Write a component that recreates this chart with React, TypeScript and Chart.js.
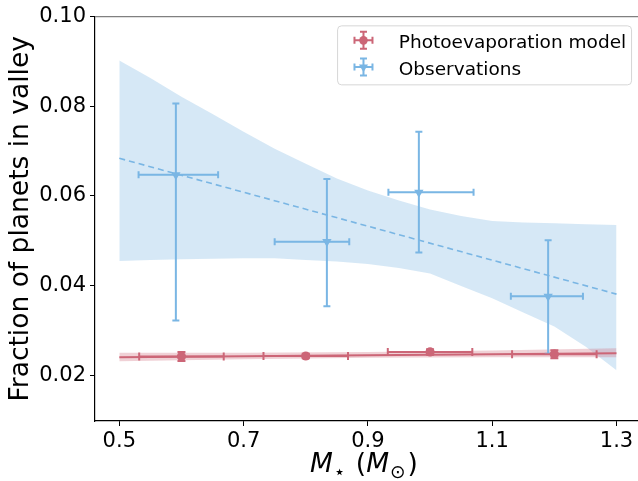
import React, { useEffect, useRef } from "react";
import { Chart, registerables } from "chart.js";

Chart.register(...registerables);

// ---------- data ----------
const xTicks = [0.5, 0.7, 0.9, 1.1, 1.3];
const yTicks = [0.02, 0.04, 0.06, 0.08, 0.1];

const legendLabels = ["Photoevaporation model", "Observations"];

// Photoevaporation model points
const modelMass = [0.6, 0.8, 1.0, 1.2];
const modelFraction = [0.0242, 0.0243, 0.0252, 0.0247];
const modelFracErr = [0.001, 0.0005, 0.0006, 0.0009];
const modelMassErr = [0.068, 0.068, 0.068, 0.068];

// Observations
const obsMass = [0.591, 0.834, 0.982, 1.19];
const obsFraction = [0.0647, 0.0498, 0.0608, 0.0376];
const obsFracErrLow = [0.0325, 0.0144, 0.0134, 0.0128];
const obsFracErrHigh = [0.0159, 0.014, 0.0135, 0.0125];
const obsMassErrLow = [0.06, 0.084, 0.049, 0.06];
const obsMassErrHigh = [0.068, 0.036, 0.088, 0.056];

// Fit lines
const fitMass = [0.5, 1.3];
const obsFitValue = [0.0684, 0.0381];
const modelFitValue = [0.024, 0.0249];

// Observation fit uncertainty band
const obsBandMass = [0.5, 0.55, 0.6, 0.65, 0.7, 0.75, 0.8, 0.85, 0.9, 0.95, 1.0, 1.05, 1.1, 1.15, 1.2, 1.25, 1.3];
const obsBandHigh = [0.0902, 0.0863, 0.0821, 0.0783, 0.0743, 0.0705, 0.0672, 0.0639, 0.0612, 0.059, 0.057, 0.0555, 0.0544, 0.0541, 0.0539, 0.0537, 0.0535];
const obsBandLow = [0.0455, 0.0457, 0.0459, 0.046, 0.0461, 0.0461, 0.0457, 0.0454, 0.0448, 0.0439, 0.0427, 0.0399, 0.0372, 0.034, 0.0309, 0.0264, 0.0211];

// Model fit uncertainty band
const modelBandMass = [0.5, 0.7, 0.9, 1.1, 1.3];
const modelBandLow = [0.0231, 0.0236, 0.0239, 0.024, 0.024];
const modelBandHigh = [0.025, 0.025, 0.0252, 0.0255, 0.026];

// ---------- styles ----------
const RED = "#CC6677";
const RED_BAND = "rgba(204,102,119,0.3)";
const BLUE = "#7ab6e4";
const BLUE_BAND = "rgba(93,165,218,0.25)";
const FONT = "DejaVu Sans";

const pts = (xs: number[], ys: number[]) => xs.map((x, i) => ({ x, y: ys[i] }));

function drawMarker(ctx: CanvasRenderingContext2D, kind: string, x: number, y: number, r: number, color: string) {
  ctx.fillStyle = color;
  ctx.beginPath();
  if (kind === "circle") {
    ctx.arc(x, y, r, 0, Math.PI * 2);
  } else {
    ctx.moveTo(x, y + r);
    ctx.lineTo(x - r * 0.866, y - r * 0.5);
    ctx.lineTo(x + r * 0.866, y - r * 0.5);
    ctx.closePath();
  }
  ctx.fill();
}

const errorBarPlugin = {
  id: "errorBars",
  beforeDatasetDraw(chart: any, args: any) {
    const ds = chart.data.datasets[args.index];
    const eb = ds.errorBars;
    if (!eb) return;
    const xs = chart.scales.x;
    const ys = chart.scales.y;
    const ctx = chart.ctx as CanvasRenderingContext2D;
    ctx.save();
    ctx.strokeStyle = eb.color;
    ctx.lineWidth = eb.width;
    const cap = eb.cap;
    ds.data.forEach((p: any, i: number) => {
      const e = eb.values[i];
      const px = xs.getPixelForValue(p.x);
      const py = ys.getPixelForValue(p.y);
      const x0 = xs.getPixelForValue(p.x - e.xl);
      const x1 = xs.getPixelForValue(p.x + e.xh);
      const y0 = ys.getPixelForValue(p.y - e.yl);
      const y1 = ys.getPixelForValue(p.y + e.yh);
      ctx.beginPath();
      ctx.moveTo(x0, py);
      ctx.lineTo(x1, py);
      ctx.moveTo(px, y0);
      ctx.lineTo(px, y1);
      ctx.moveTo(x0, py - cap);
      ctx.lineTo(x0, py + cap);
      ctx.moveTo(x1, py - cap);
      ctx.lineTo(x1, py + cap);
      ctx.moveTo(px - cap, y0);
      ctx.lineTo(px + cap, y0);
      ctx.moveTo(px - cap, y1);
      ctx.lineTo(px + cap, y1);
      ctx.stroke();
    });
    ctx.restore();
  },
};

const framePlugin = {
  id: "frameTop",
  afterDraw(chart: any) {
    const { ctx, chartArea } = chart;
    ctx.save();
    ctx.strokeStyle = "#808080";
    ctx.lineWidth = 1.2;
    ctx.beginPath();
    ctx.moveTo(chartArea.left, chartArea.top);
    ctx.lineTo(chartArea.right + 2, chartArea.top);
    ctx.stroke();
    ctx.restore();
  },
};

const xTitlePlugin = {
  id: "xTitle",
  afterDraw(chart: any) {
    const ctx = chart.ctx as CanvasRenderingContext2D;
    const area = chart.chartArea;
    const fs = 26.5;
    const sub = fs * 0.7;
    const segs = [
      { t: "M", font: `italic ${fs}px "${FONT}"`, dy: 0, gap: 1 },
      { t: "\u22C6", font: `${sub}px "${FONT}"`, dy: 6, gap: 2 },
      { t: " (", font: `${fs}px "${FONT}"`, dy: 0, gap: 0 },
      { t: "M", font: `italic ${fs}px "${FONT}"`, dy: 0, gap: 1 },
      { t: "\u2299", font: `${sub}px "${FONT}"`, dy: 6, gap: 2 },
      { t: ")", font: `${fs}px "${FONT}"`, dy: 0, gap: 0 },
    ];
    ctx.save();
    let total = 0;
    const widths = segs.map((s) => {
      ctx.font = s.font;
      const w = ctx.measureText(s.t).width + s.gap;
      total += w;
      return w;
    });
    let x = (area.left + area.right) / 2 - total / 2 - 4;
    const base = 472;
    ctx.fillStyle = "#000";
    ctx.textBaseline = "alphabetic";
    ctx.textAlign = "left";
    segs.forEach((s, i) => {
      ctx.font = s.font;
      ctx.fillText(s.t, x, base + s.dy);
      x += widths[i];
    });
    ctx.restore();
  },
};

const legendPlugin = {
  id: "mplLegend",
  afterDraw(chart: any) {
    const ctx = chart.ctx as CanvasRenderingContext2D;
    const area = chart.chartArea;
    const fs = 18.5;
    ctx.save();
    ctx.font = `${fs}px "${FONT}"`;
    const items = [
      { label: legendLabels[0], color: RED, marker: "circle", r: 4.3 },
      { label: legendLabels[1], color: BLUE, marker: "tri", r: 5.2 },
    ];
    const textW = Math.max(...items.map((d) => ctx.measureText(d.label).width));
    const pad = 0.4 * fs;
    const handleLen = 2 * fs;
    const textPad = 0.8 * fs;
    const right = area.right - 0.5 * fs;
    const top = area.top + 0.5 * fs;
    const w = pad + handleLen + textPad + textW + pad;
    const h = 59;
    const left = right - w;
    const rad = 4;
    ctx.beginPath();
    ctx.moveTo(left + rad, top);
    ctx.lineTo(right - rad, top);
    ctx.quadraticCurveTo(right, top, right, top + rad);
    ctx.lineTo(right, top + h - rad);
    ctx.quadraticCurveTo(right, top + h, right - rad, top + h);
    ctx.lineTo(left + rad, top + h);
    ctx.quadraticCurveTo(left, top + h, left, top + h - rad);
    ctx.lineTo(left, top + rad);
    ctx.quadraticCurveTo(left, top, left + rad, top);
    ctx.closePath();
    ctx.fillStyle = "rgba(255,255,255,0.8)";
    ctx.fill();
    ctx.strokeStyle = "#d6d6d6";
    ctx.lineWidth = 1;
    ctx.stroke();

    items.forEach((d, k) => {
      const baseY = top + 22 + k * 26.7;
      const cy = baseY - 7.5;
      const cx = left + pad + handleLen / 2;
      ctx.strokeStyle = d.color;
      ctx.lineWidth = 2;
      ctx.beginPath();
      ctx.moveTo(cx - 9, cy);
      ctx.lineTo(cx + 9, cy);
      ctx.moveTo(cx, cy - 8.5);
      ctx.lineTo(cx, cy + 8.5);
      ctx.moveTo(cx - 9, cy - 3.5);
      ctx.lineTo(cx - 9, cy + 3.5);
      ctx.moveTo(cx + 9, cy - 3.5);
      ctx.lineTo(cx + 9, cy + 3.5);
      ctx.moveTo(cx - 3.5, cy - 8.5);
      ctx.lineTo(cx + 3.5, cy - 8.5);
      ctx.moveTo(cx - 3.5, cy + 8.5);
      ctx.lineTo(cx + 3.5, cy + 8.5);
      ctx.stroke();
      drawMarker(ctx, d.marker, cx, cy, d.r, d.color);
      ctx.fillStyle = "#000";
      ctx.textBaseline = "alphabetic";
      ctx.textAlign = "left";
      ctx.font = `${fs}px "${FONT}"`;
      ctx.fillText(d.label, left + pad + handleLen + textPad + 2, baseY);
    });
    ctx.restore();
  },
};

export default function App() {
  const ref = useRef<HTMLCanvasElement>(null);

  useEffect(() => {
    const canvas = ref.current;
    if (!canvas) return;

    const modelErr = modelMass.map((_, i) => ({
      xl: modelMassErr[i],
      xh: modelMassErr[i],
      yl: modelFracErr[i],
      yh: modelFracErr[i],
    }));
    const obsErr = obsMass.map((_, i) => ({
      xl: obsMassErrLow[i],
      xh: obsMassErrHigh[i],
      yl: obsFracErrLow[i],
      yh: obsFracErrHigh[i],
    }));

    const tickFont = { family: FONT, size: 21 };

    const chart = new Chart(canvas, {
      type: "line",
      data: {
        datasets: [
          {
            label: legendLabels[0],
            data: pts(modelMass, modelFraction),
            showLine: false,
            pointStyle: "circle",
            pointRadius: 4.6,
            pointBackgroundColor: RED,
            pointBorderColor: RED,
            pointBorderWidth: 0,
            borderColor: RED,
            backgroundColor: RED,
            order: 0,
            errorBars: { color: RED, width: 2, cap: 4, values: modelErr },
          } as any,
          {
            label: legendLabels[1],
            data: pts(obsMass, obsFraction),
            showLine: false,
            pointStyle: "triangle",
            rotation: 180,
            pointRadius: 5.4,
            pointBackgroundColor: BLUE,
            pointBorderColor: BLUE,
            pointBorderWidth: 0,
            borderColor: BLUE,
            backgroundColor: BLUE,
            order: 1,
            errorBars: { color: BLUE, width: 2, cap: 3.5, values: obsErr },
          } as any,
          {
            label: "model fit",
            data: pts(fitMass, modelFitValue),
            borderColor: RED,
            borderWidth: 2,
            pointRadius: 0,
            fill: false,
            order: 2,
          },
          {
            label: "model band low",
            data: pts(modelBandMass, modelBandLow),
            borderColor: "transparent",
            borderWidth: 0,
            pointRadius: 0,
            fill: false,
            order: 4,
          },
          {
            label: "model band high",
            data: pts(modelBandMass, modelBandHigh),
            borderColor: "transparent",
            borderWidth: 0,
            pointRadius: 0,
            backgroundColor: RED_BAND,
            fill: "-1",
            order: 3,
          },
          {
            label: "observation fit",
            data: pts(fitMass, obsFitValue),
            borderColor: BLUE,
            borderWidth: 1.6,
            borderDash: [6, 4],
            pointRadius: 0,
            fill: false,
            order: 5,
          },
          {
            label: "obs band low",
            data: pts(obsBandMass, obsBandLow),
            borderColor: "transparent",
            borderWidth: 0,
            pointRadius: 0,
            fill: false,
            order: 7,
          },
          {
            label: "obs band high",
            data: pts(obsBandMass, obsBandHigh),
            borderColor: "transparent",
            borderWidth: 0,
            pointRadius: 0,
            backgroundColor: BLUE_BAND,
            fill: "-1",
            order: 6,
          },
        ],
      },
      options: {
        animation: false,
        responsive: false,
        devicePixelRatio: 1,
        layout: { padding: { left: 0, top: 14, right: 19.2, bottom: 0 } },
        elements: { line: { tension: 0 } },
        plugins: {
          legend: { display: false },
          tooltip: { enabled: false },
        },
        scales: {
          x: {
            type: "linear",
            min: 0.4609,
            max: 1.3391,
            afterBuildTicks: (s: any) => {
              s.ticks = xTicks.map((v) => ({ value: v }));
            },
            afterFit: (s: any) => {
              s.height = 60;
            },
            ticks: {
              font: tickFont,
              color: "#000",
              padding: 3,
              maxRotation: 0,
              autoSkip: false,
              callback: (v: any) => Number(v).toFixed(1),
            },
            grid: { drawOnChartArea: false, drawTicks: true, tickLength: 5, tickColor: "#000", tickWidth: 1 },
            border: { display: true, color: "#000", width: 1.2 },
          },
          y: {
            type: "linear",
            min: 0.0098,
            max: 0.1,
            afterBuildTicks: (s: any) => {
              s.ticks = yTicks.map((v) => ({ value: v }));
            },
            afterFit: (s: any) => {
              s.width = 95;
            },
            ticks: {
              font: tickFont,
              color: "#000",
              padding: 4,
              autoSkip: false,
              callback: (v: any) => Number(v).toFixed(2),
            },
            grid: { drawOnChartArea: false, drawTicks: true, tickLength: 5, tickColor: "#000", tickWidth: 1 },
            border: { display: true, color: "#000", width: 1.2 },
            title: {
              display: true,
              text: "Fraction of planets in valley",
              color: "#000",
              font: { family: FONT, size: 26.5, lineHeight: 1.2 },
              padding: { top: 5, bottom: 0 },
            },
          },
        },
      } as any,
      plugins: [errorBarPlugin, framePlugin, xTitlePlugin, legendPlugin],
    });

    return () => chart.destroy();
  }, []);

  return (
    <div
      style={{
        position: "fixed",
        left: 0,
        top: 0,
        width: 638,
        height: 481,
        overflow: "hidden",
        background: "#fff",
      }}
    >
      <canvas ref={ref} width={660} height={481} style={{ display: "block", width: 660, height: 481 }} />
    </div>
  );
}
